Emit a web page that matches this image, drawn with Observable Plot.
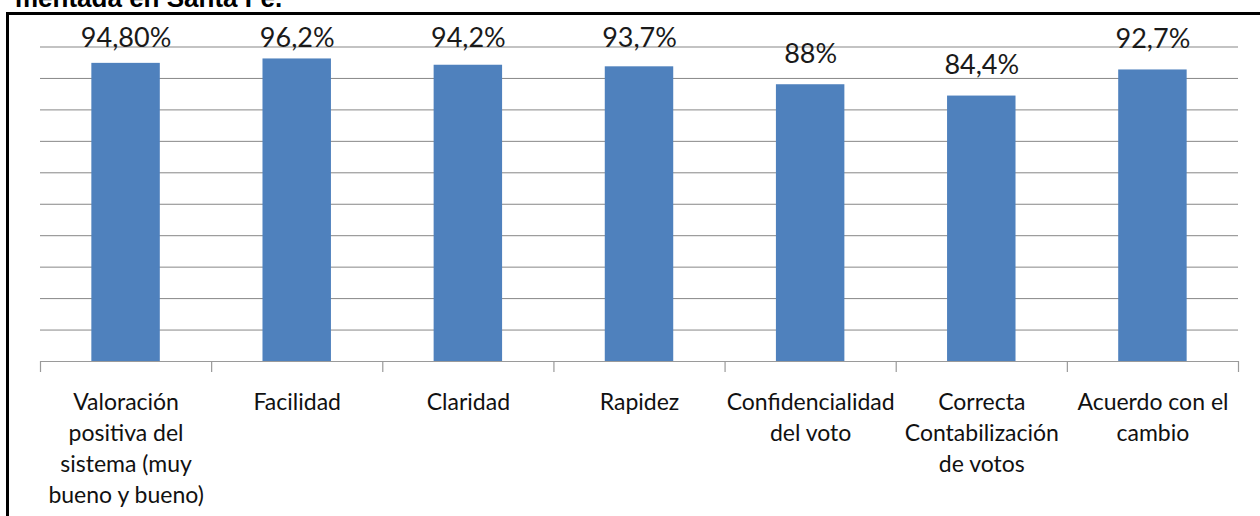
<!DOCTYPE html>
<html>
<head>
<meta charset="utf-8">
<script src="https://cdn.jsdelivr.net/npm/d3@7"></script>
<script src="https://cdn.jsdelivr.net/npm/@observablehq/plot@0.6"></script>
<style>
  html, body { margin: 0; padding: 0; background: #fff; width: 1260px; height: 516px; overflow: hidden; position: relative; }
  #title { position: absolute; left: 15px; top: -15px; font: bold 26px/26px "Liberation Sans", Arial, sans-serif; color: #000; white-space: nowrap; }
  #frame { position: absolute; left: 6px; top: 12px; width: 1400px; height: 700px; border-left: 3px solid #000; border-top: 3px solid #000; }
  #chart { position: absolute; left: 0; top: 0; }
</style>
</head>
<body>
<div id="title">mentada en Santa Fe.</div>
<div id="frame"></div>
<div id="chart"></div>
<script>
const categories = [
  "Valoración\npositiva del\nsistema (muy\nbueno y bueno)",
  "Facilidad",
  "Claridad",
  "Rapidez",
  "Confidencialidad\ndel voto",
  "Correcta\nContabilización\nde votos",
  "Acuerdo con el\ncambio"
];
const values = [94.8, 96.2, 94.2, 93.7, 88, 84.4, 92.7];
const valueLabels = ["94,80%", "96,2%", "94,2%", "93,7%", "88%", "84,4%", "92,7%"];

const data = categories.map((c, i) => ({cat: c, value: values[i], label: valueLabels[i]}));

const W = 1260, H = 516, mL = 40, mR = 22, mT = 46.5, mB = 155;
const step = (W - mL - mR) / categories.length;
const font = "Lato, 'Open Sans', sans-serif";

const plot = Plot.plot({
  width: W,
  height: H,
  marginLeft: mL,
  marginRight: mR,
  marginTop: mT,
  marginBottom: mB,
  style: {background: "transparent", fontFamily: font, color: "#000"},
  x: {domain: categories, paddingInner: 0.6, paddingOuter: 0.3, round: false, label: null, axis: null},
  y: {domain: [0, 100], label: null, axis: null},
  marks: [
    Plot.gridY({ticks: 10, stroke: "#878787", strokeOpacity: 1, strokeWidth: 1}),
    Plot.ruleY([0], {stroke: "#9a9a9a", strokeWidth: 1.2}),
    Plot.axisX({tickSize: 11, text: null, dx: -step / 2, stroke: "#9a9a9a", strokeWidth: 1.2, label: null}),
    Plot.axisX({ticks: [categories[categories.length - 1]], tickSize: 11, text: null, dx: step / 2, stroke: "#9a9a9a", strokeWidth: 1.2, label: null}),
    Plot.axisX({tickSize: 0, tickPadding: 26, fontSize: 23, lineHeight: 1.35, fill: "#111", label: null, fontFamily: font}),
    Plot.barY(data, {x: "cat", y: "value", fill: "#4F81BD"}),
    Plot.text(data, {x: "cat", y: d => Math.min(d.value + 7, 100), text: "label", lineAnchor: "bottom", fontSize: 27, fill: "#1a1a1a", fontFamily: font})
  ]
});
document.getElementById("chart").appendChild(plot);
</script>
</body>
</html>
